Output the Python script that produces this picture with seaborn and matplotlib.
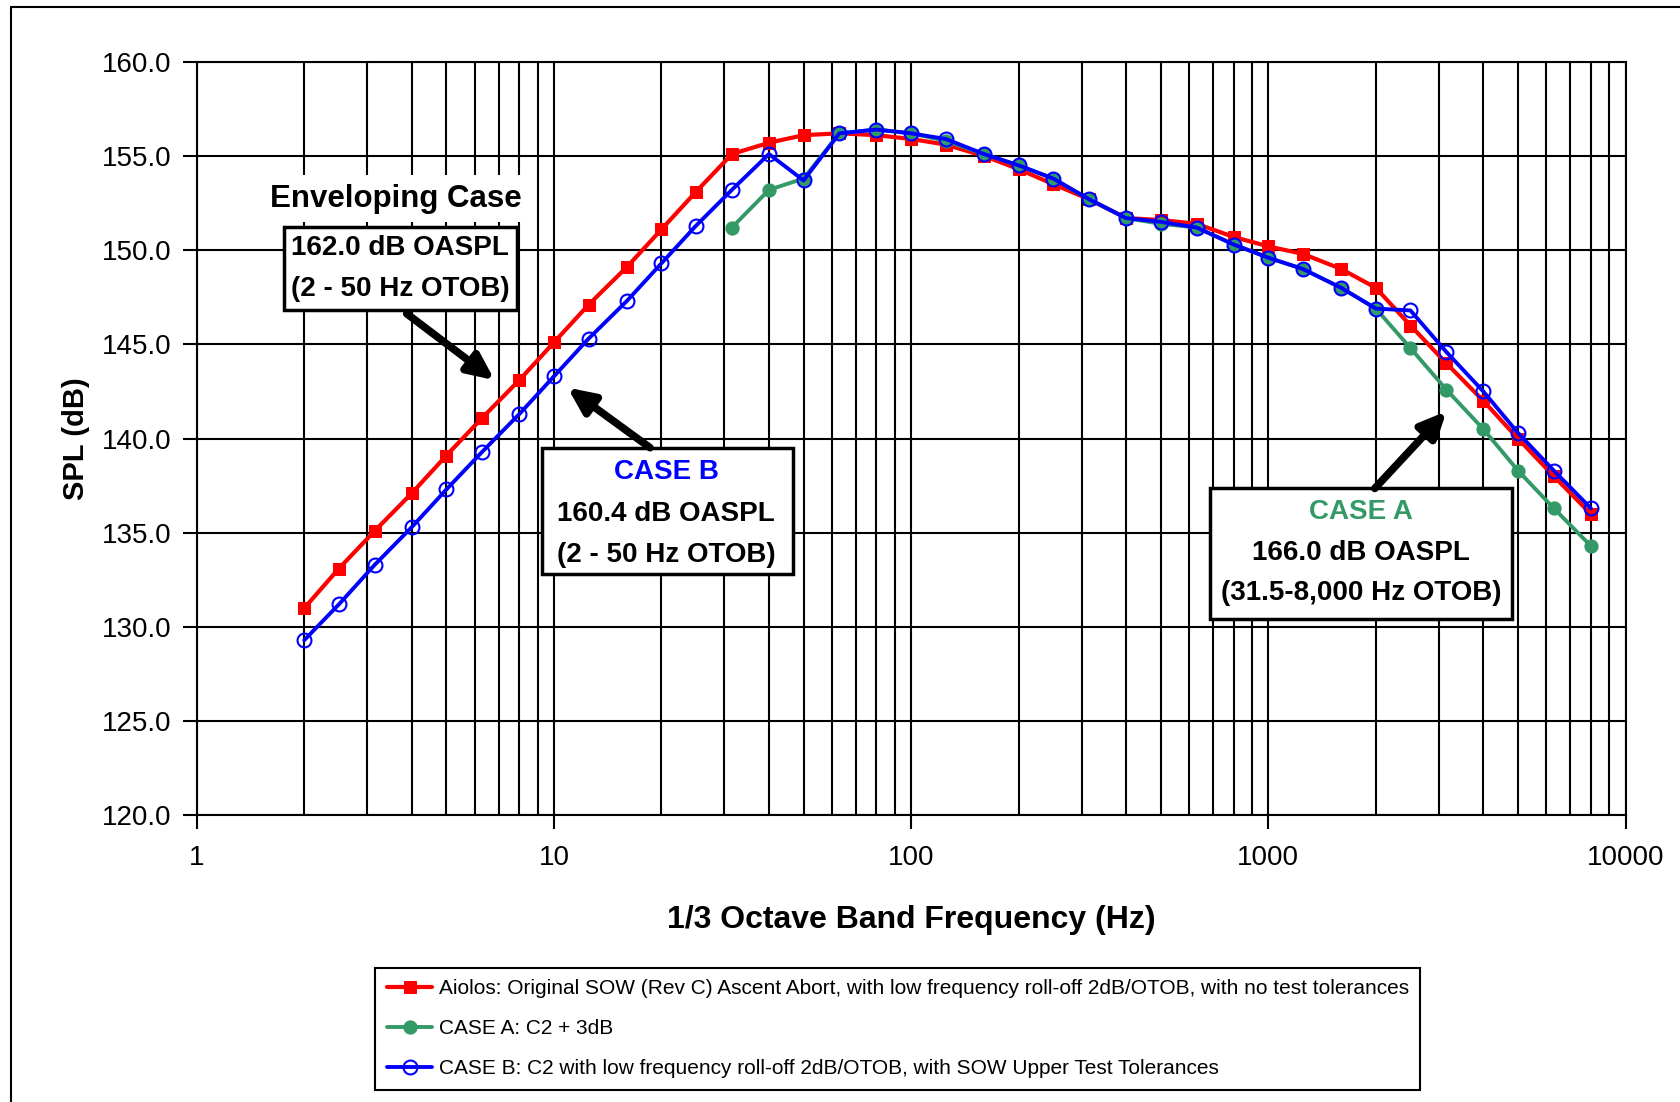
import matplotlib
matplotlib.use("Agg")
import matplotlib.pyplot as plt
import matplotlib.ticker as mticker
from matplotlib.patches import Rectangle
import seaborn as sns

# ---------------- data ----------------
freq = [2, 2.5, 3.15, 4, 5, 6.3, 8, 10, 12.5, 16, 20, 25, 31.5, 40, 50, 63, 80,
        100, 125, 160, 200, 250, 315, 400, 500, 630, 800, 1000, 1250, 1600, 2000,
        2500, 3150, 4000, 5000, 6300, 8000]
aiolos = [131.0, 133.1, 135.1, 137.1, 139.1, 141.1, 143.1, 145.1, 147.1, 149.1,
          151.1, 153.1, 155.1, 155.7, 156.1, 156.2, 156.1, 155.9, 155.6, 155.0,
          154.3, 153.5, 152.7, 151.7, 151.6, 151.4, 150.7, 150.2, 149.8, 149.0,
          148.0, 146.0, 144.0, 142.0, 140.0, 138.0, 136.0]
case_b = [129.3, 131.2, 133.3, 135.3, 137.3, 139.3, 141.3, 143.3, 145.3, 147.3,
          149.3, 151.3, 153.2, 155.1, 153.7, 156.2, 156.4, 156.2, 155.9, 155.1,
          154.5, 153.8, 152.7, 151.7, 151.5, 151.2, 150.3, 149.6, 149.0, 148.0,
          146.9, 146.8, 144.6, 142.5, 140.3, 138.3, 136.3]
freq_a = [31.5, 40, 50, 63, 80, 100, 125, 160, 200, 250, 315, 400, 500, 630, 800,
          1000, 1250, 1600, 2000, 2500, 3150, 4000, 5000, 6300, 8000]
case_a = [151.2, 153.2, 153.8, 156.2, 156.4, 156.2, 155.8, 155.1, 154.5, 153.8,
          152.7, 151.7, 151.4, 151.2, 150.3, 149.6, 149.0, 148.0, 146.9, 144.8,
          142.6, 140.5, 138.3, 136.3, 134.3]

labels = [
    "Aiolos: Original SOW (Rev C) Ascent Abort, with low frequency roll-off 2dB/OTOB, with no test tolerances",
    "CASE A: C2 + 3dB",
    "CASE B: C2 with low frequency roll-off 2dB/OTOB, with SOW Upper Test Tolerances",
]
x_ticks = [1, 10, 100, 1000, 10000]
x_ticklabels = ["1", "10", "100", "1000", "10000"]
y_ticks = [120, 125, 130, 135, 140, 145, 150, 155, 160]

RED = "#FF0000"
GREEN = "#339966"
BLUE = "#0000FF"

# ---------------- style ----------------
sns.set_theme(style="white")
plt.rcParams["font.family"] = ["Liberation Sans", "DejaVu Sans"]
plt.rcParams["text.color"] = "black"
plt.rcParams["axes.labelcolor"] = "black"
plt.rcParams["xtick.color"] = "black"
plt.rcParams["ytick.color"] = "black"
NARROW = ["Liberation Sans Narrow", "Liberation Sans", "DejaVu Sans"]

fig = plt.figure(figsize=(16.81, 11.02), dpi=100)
ax = fig.add_axes([0.117, 0.260, 0.850, 0.684])

sns.lineplot(x=freq, y=aiolos, ax=ax, color=RED, lw=3.0, marker="s",
             markersize=8.5, markerfacecolor=RED, markeredgecolor=RED,
             label=labels[0], zorder=3)
sns.lineplot(x=freq_a, y=case_a, ax=ax, color=GREEN, lw=2.8, marker="o",
             markersize=9.5, markerfacecolor=GREEN, markeredgecolor=GREEN,
             label=labels[1], zorder=4)
sns.lineplot(x=freq, y=case_b, ax=ax, color=BLUE, lw=2.8, marker="o",
             markersize=10, markerfacecolor="none", markeredgecolor=BLUE,
             markeredgewidth=1.5, label=labels[2], zorder=5)

ax.set_xscale("log")
ax.set_xlim(1, 10000)
ax.set_ylim(120, 160)
ax.xaxis.set_major_locator(mticker.FixedLocator(x_ticks))
ax.xaxis.set_major_formatter(mticker.FixedFormatter(x_ticklabels))
ax.xaxis.set_minor_locator(mticker.LogLocator(base=10, subs=range(2, 10), numticks=50))
ax.xaxis.set_minor_formatter(mticker.NullFormatter())
ax.yaxis.set_major_locator(mticker.FixedLocator(y_ticks))
ax.yaxis.set_major_formatter(mticker.FormatStrFormatter("%.1f"))

ax.grid(True, which="major", axis="both", color="black", lw=1.5)
ax.grid(True, which="minor", axis="x", color="black", lw=1.5)
ax.set_axisbelow(True)
for s in ax.spines.values():
    s.set_color("black")
    s.set_linewidth(1.5)

ax.tick_params(axis="both", which="major", direction="out", length=10, width=1.5,
               color="black", labelsize=20, labelcolor="black", pad=8,
               bottom=True, left=True)
ax.tick_params(axis="x", which="major", pad=11)
ax.tick_params(axis="x", which="minor", length=0)

ax.set_xlabel("1/3 Octave Band Frequency (Hz)", fontsize=23, fontweight="bold",
              labelpad=25, color="black")
ax.set_ylabel("SPL (dB)", fontsize=21, fontweight="bold", labelpad=9, color="black")

# ---------------- annotations ----------------
T = ax.transAxes
ax.text(0.1395, 0.818, "Enveloping Case", transform=T, ha="center", va="center",
        fontsize=22.5, fontweight="bold", color="black", zorder=7,
        bbox=dict(facecolor="white", edgecolor="none", pad=6))

def box(x0, y0, x1, y1):
    ax.add_patch(Rectangle((x0, y0), x1 - x0, y1 - y0, transform=T,
                           facecolor="white", edgecolor="black", lw=2.5, zorder=6))

# Box 1
box(0.0608, 0.670, 0.2243, 0.781)
ax.text(0.1425, 0.7525, "162.0 dB OASPL", transform=T, ha="center", va="center",
        fontsize=20, fontweight="bold", family=NARROW, color="black", zorder=7)
ax.text(0.1425, 0.6984, "(2 - 50 Hz OTOB)", transform=T, ha="center", va="center",
        fontsize=20, fontweight="bold", family=NARROW, color="black", zorder=7)

# Box B
box(0.2416, 0.3201, 0.4171, 0.4879)
ax.text(0.3286, 0.4552, "CASE B", transform=T, ha="center", va="center",
        fontsize=20, fontweight="bold", color=BLUE, zorder=7)
ax.text(0.3286, 0.3997, "160.4 dB OASPL", transform=T, ha="center", va="center",
        fontsize=20, fontweight="bold", color="black", zorder=7)
ax.text(0.3286, 0.3457, "(2 - 50 Hz OTOB)", transform=T, ha="center", va="center",
        fontsize=20, fontweight="bold", color="black", zorder=7)

# Box A
box(0.7089, 0.2603, 0.9205, 0.4339)
ax.text(0.8147, 0.4026, "CASE A", transform=T, ha="center", va="center",
        fontsize=20, fontweight="bold", color=GREEN, zorder=7)
ax.text(0.8147, 0.3485, "166.0 dB OASPL", transform=T, ha="center", va="center",
        fontsize=20, fontweight="bold", color="black", zorder=7)
ax.text(0.8147, 0.2945, "(31.5-8,000 Hz OTOB)", transform=T, ha="center", va="center",
        fontsize=20, fontweight="bold", color="black", zorder=7)

arrowprops = dict(arrowstyle="-|>,head_length=1.3,head_width=0.6", color="black",
                  lw=5.5, shrinkA=0, shrinkB=0)
for head, tail in [((0.2085, 0.5775), (0.147, 0.6657)),
                   ((0.2596, 0.5676), (0.3173, 0.4879)),
                   ((0.8747, 0.5363), (0.8245, 0.4339))]:
    ax.annotate("", xy=head, xycoords=T, xytext=tail, textcoords=T,
                arrowprops=arrowprops, zorder=8)

# ---------------- legend ----------------
leg = ax.legend(loc="upper left", bbox_to_anchor=(0.2232, 0.1216),
                bbox_transform=fig.transFigure, borderaxespad=0, frameon=True,
                fancybox=False, edgecolor="black", framealpha=1, borderpad=0.55,
                handlelength=2.2, handletextpad=0.3, labelspacing=1.0,
                prop=dict(family=NARROW, size=15))
leg.get_frame().set_linewidth(1.5)
for t in leg.get_texts():
    t.set_color("black")

# figure frame (left and top edges visible)
fig.patches.append(Rectangle((0.0064, -0.01), 1.02, 1.004, transform=fig.transFigure,
                             fill=False, edgecolor="black", lw=1.5))

fig.savefig("out.png", dpi=100, facecolor="white")
